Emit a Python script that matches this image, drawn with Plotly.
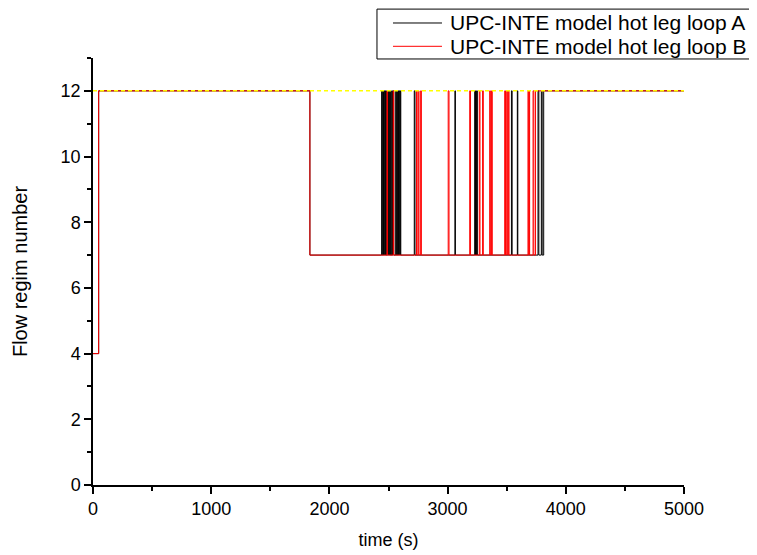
import plotly.graph_objects as go

# flow regime step data (time in s, regime number)
time_a = [0, 48, 1835,
          2442, 2447, 2452, 2458, 2463, 2468, 2474, 2479, 2485, 2490,
          2496, 2501, 2507, 2512, 2518, 2523, 2529, 2534, 2540, 2545,
          2561, 2565, 2570, 2575, 2580, 2585, 2590, 2595, 2600, 2604,
          2718, 2724, 3062, 3066, 3229, 3236, 3245, 3252,
          3540, 3546, 3590, 3594, 3765, 3772, 3793, 3800, 3813, 5000]
regime_a = [4, 12, 7,
            12, 7, 12, 7, 12, 7, 12, 7, 12, 7,
            12, 7, 12, 7, 12, 7, 12, 7, 12, 7,
            12, 7, 12, 7, 12, 7, 12, 7, 12, 7,
            12, 7, 12, 7, 12, 7, 12, 7,
            12, 7, 12, 7, 12, 7, 12, 7, 12, 12]

time_b = [0, 48, 1835,
          2487, 2492, 2540, 2544, 2737, 2742, 2752, 2758, 2772, 2778,
          3005, 3012, 3187, 3194, 3268, 3274, 3296, 3302,
          3356, 3362, 3372, 3378, 3483, 3490, 3500, 3508, 3514, 3520,
          3680, 3686, 3690, 3694, 3723, 3730, 3744, 5000]
regime_b = [4, 12, 7,
            12, 7, 12, 7, 12, 7, 12, 7, 12, 7,
            12, 7, 12, 7, 12, 7, 12, 7,
            12, 7, 12, 7, 12, 7, 12, 7, 12, 7,
            12, 7, 12, 7, 12, 7, 12, 12]

ref_time = [0, 5000]
ref_regime = [12, 12]

names = ['UPC-INTE model hot leg loop A', 'UPC-INTE model hot leg loop B']
colors = ['black', '#ff0000']

font_name = 'Liberation Sans, Arial, sans-serif'

fig = go.Figure()
fig.add_trace(go.Scatter(
    x=time_a, y=regime_a, mode='lines', line_shape='hv',
    line=dict(color=colors[0], width=1), name=names[0],
))
fig.add_trace(go.Scatter(
    x=time_b, y=regime_b, mode='lines', line_shape='hv',
    line=dict(color=colors[1], width=1), name=names[1],
))
fig.add_trace(go.Scatter(
    x=ref_time, y=ref_regime, mode='lines',
    line=dict(color='#ffff00', width=1.5, dash='4px,3px'),
    showlegend=False,
))

# legend box drawn by hand (Origin style: long line samples, box runs off the right edge)
fig.add_shape(type='rect', xref='paper', yref='paper',
              x0=0.4805, x1=1.13, y0=0.9977, y1=1.1145,
              line=dict(color='black', width=1), fillcolor='white', layer='above')
for i, (nm, c) in enumerate(zip(names, colors)):
    yy = 1.082 - i * 0.0546
    fig.add_shape(type='line', xref='paper', yref='paper',
                  x0=0.5076, x1=0.5905, y0=yy, y1=yy,
                  line=dict(color=c, width=1), layer='above')
    fig.add_annotation(xref='paper', yref='paper', x=0.6007, y=yy,
                       xanchor='left', yanchor='middle', showarrow=False,
                       text=nm, font=dict(size=21, color='black'))

# the page body adds an 8px offset, margins below allow for it
fig.update_layout(
    width=757, height=555,
    margin=dict(l=85, r=81, t=50, b=78, autoexpand=False),
    plot_bgcolor='white', paper_bgcolor='white',
    font=dict(family=font_name, color='black', size=18),
    showlegend=False,
)
fig.update_xaxes(
    range=[0, 5000], dtick=1000, showgrid=False, zeroline=False,
    showline=True, linecolor='black', linewidth=1.5,
    ticks='outside', ticklen=7, tickwidth=1.5, tickcolor='black',
    minor=dict(dtick=500, ticks='outside', ticklen=4, tickwidth=1.5, tickcolor='black'),
    title=dict(text='time (s)', font=dict(size=18), standoff=15),
    automargin=False,
)
fig.update_yaxes(
    range=[0, 13], dtick=2, showgrid=False, zeroline=False,
    showline=True, linecolor='black', linewidth=1.5,
    ticks='outside', ticklen=7, tickwidth=1.5, tickcolor='black',
    minor=dict(dtick=1, ticks='outside', ticklen=4, tickwidth=1.5, tickcolor='black'),
    title=dict(text='Flow regim number', font=dict(size=20), standoff=28),
    automargin=False,
)

fig.write_html('out.html')
